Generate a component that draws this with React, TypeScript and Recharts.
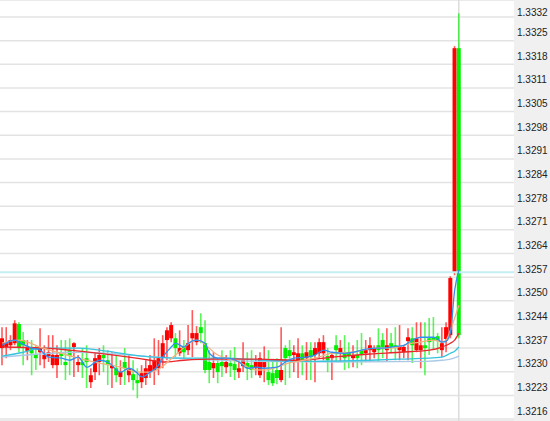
import React from 'react';
import { ComposedChart, Bar, Line, XAxis, YAxis, CartesianGrid, ReferenceLine } from 'recharts';

// candle prices, one entry per bar
const opens = [
  1.32368, 1.32371, 1.32376, 1.32382, 1.32437, 1.32391, 1.32359, 1.32368, 1.32351, 1.32356,
  1.32336, 1.32345, 1.32319, 1.32319, 1.32356, 1.32328, 1.32362, 1.32371, 1.32319, 1.32328,
  1.32339, 1.3227, 1.32299, 1.32328, 1.32348, 1.32333, 1.3231, 1.3231, 1.32285, 1.32328,
  1.3229, 1.32293, 1.32276, 1.3227, 1.32282, 1.32299, 1.32305, 1.3231, 1.32342, 1.32391,
  1.32396, 1.32396, 1.32353, 1.32371, 1.32362, 1.32396, 1.32385, 1.32428, 1.32382, 1.32328,
  1.3231, 1.32325, 1.32328, 1.32313, 1.32325, 1.32322, 1.32299, 1.32316, 1.32325, 1.32319,
  1.3231, 1.3229, 1.32313, 1.32299, 1.32296, 1.32305, 1.32276, 1.32368, 1.32362, 1.32348,
  1.32328, 1.32353, 1.32339, 1.32362, 1.32348, 1.32353, 1.32353, 1.32345, 1.32339, 1.32376,
  1.32356, 1.32353, 1.32356, 1.32339, 1.32348, 1.32362, 1.32353, 1.32362, 1.32356, 1.32376,
  1.32391, 1.32362, 1.32382, 1.32376, 1.32362, 1.32356, 1.32388, 1.32396, 1.32362, 1.32362,
  1.32376, 1.32396, 1.32399, 1.32402, 1.32362, 1.32394, 1.32405, 1.32586, 1.33229,
];
const highs = [
  1.32428, 1.32428, 1.32405, 1.32448, 1.32442, 1.32414, 1.32391, 1.32391, 1.32376, 1.32425,
  1.32376, 1.32405, 1.32405, 1.32376, 1.32391, 1.32391, 1.32396, 1.32385, 1.32348, 1.32368,
  1.32376, 1.3231, 1.32356, 1.32368, 1.32376, 1.32362, 1.32356, 1.32345, 1.32333, 1.32368,
  1.32348, 1.32333, 1.3231, 1.32319, 1.32333, 1.32348, 1.32396, 1.32391, 1.32405, 1.32428,
  1.32442, 1.32411, 1.32419, 1.32391, 1.32434, 1.32477, 1.32431, 1.32468, 1.32448, 1.32362,
  1.32356, 1.32339, 1.32362, 1.32348, 1.32362, 1.32371, 1.32333, 1.32385, 1.32356, 1.32362,
  1.32348, 1.32356, 1.32373, 1.32362, 1.32333, 1.32339, 1.32428, 1.32376, 1.32391, 1.32376,
  1.32396, 1.32376, 1.32385, 1.32385, 1.32385, 1.32396, 1.32405, 1.32368, 1.32356, 1.32405,
  1.32391, 1.32405, 1.32385, 1.32376, 1.32391, 1.32411, 1.32391, 1.32399, 1.32376, 1.32425,
  1.32411, 1.32425, 1.32411, 1.32428, 1.32434, 1.32376, 1.32425, 1.32428, 1.32442, 1.32442,
  1.32442, 1.32454, 1.32457, 1.32411, 1.32428, 1.32442, 1.32574, 1.33235, 1.33329,
];
const lows = [
  1.32319, 1.32339, 1.32362, 1.32376, 1.32356, 1.32319, 1.32333, 1.3229, 1.32305, 1.32319,
  1.3231, 1.32328, 1.3231, 1.32282, 1.32319, 1.32276, 1.3229, 1.32285, 1.32299, 1.32282,
  1.32253, 1.32253, 1.32276, 1.3229, 1.32299, 1.32262, 1.32253, 1.3227, 1.32262, 1.32262,
  1.3227, 1.32247, 1.32224, 1.32253, 1.32262, 1.32282, 1.32262, 1.3229, 1.3231, 1.32333,
  1.32385, 1.32342, 1.32345, 1.32339, 1.32348, 1.32342, 1.32376, 1.32382, 1.32296, 1.32267,
  1.32282, 1.32267, 1.32285, 1.32296, 1.32285, 1.32276, 1.32282, 1.32299, 1.32276, 1.32282,
  1.3229, 1.32282, 1.3227, 1.32262, 1.32259, 1.32264, 1.3227, 1.32262, 1.32282, 1.32299,
  1.32282, 1.3229, 1.32276, 1.32276, 1.3227, 1.32339, 1.32333, 1.32299, 1.32276, 1.32328,
  1.32328, 1.32305, 1.3231, 1.32313, 1.3231, 1.32319, 1.32328, 1.32328, 1.32339, 1.32328,
  1.32339, 1.32328, 1.32353, 1.32333, 1.32333, 1.32339, 1.32333, 1.32325, 1.32356, 1.3231,
  1.3229, 1.32348, 1.32362, 1.32353, 1.32342, 1.32356, 1.32396, 1.32577, 1.32396,
];
const closes = [
  1.32396, 1.32382, 1.32391, 1.32439, 1.32368, 1.32376, 1.32371, 1.32353, 1.32339, 1.32368,
  1.32348, 1.32356, 1.32348, 1.32348, 1.32345, 1.32319, 1.32345, 1.32382, 1.32328, 1.32319,
  1.32328, 1.3229, 1.32339, 1.32348, 1.32339, 1.32319, 1.32319, 1.3229, 1.32299, 1.3231,
  1.3231, 1.32276, 1.32267, 1.32296, 1.3231, 1.32319, 1.32333, 1.32339, 1.32382, 1.32419,
  1.32434, 1.32368, 1.32368, 1.32356, 1.32382, 1.32411, 1.32411, 1.32411, 1.32305, 1.32305,
  1.32325, 1.32299, 1.32316, 1.32328, 1.32316, 1.32305, 1.3231, 1.32333, 1.3231, 1.32305,
  1.32328, 1.32339, 1.32333, 1.32276, 1.32267, 1.32282, 1.32305, 1.32339, 1.32345, 1.32356,
  1.32353, 1.32333, 1.32356, 1.32342, 1.32368, 1.32385, 1.32385, 1.32333, 1.32348, 1.32362,
  1.32368, 1.32339, 1.32345, 1.32348, 1.32339, 1.32351, 1.32362, 1.32376, 1.32368, 1.32362,
  1.32371, 1.32376, 1.32371, 1.32368, 1.32373, 1.32371, 1.32399, 1.32376, 1.32396, 1.32376,
  1.32368, 1.32385, 1.32391, 1.32391, 1.32382, 1.32428, 1.32569, 1.33229, 1.32405,
];

// moving average readings: [bar index, price]
const maBlue: [number, number][] = [
  [0, 1.32376], [3, 1.32391], [4, 1.32385], [7, 1.32368], [9, 1.32362], [11, 1.32342],
  [14, 1.32339], [16, 1.32333], [18, 1.32342], [20, 1.32313], [23, 1.32333], [25, 1.32328],
  [28, 1.32299], [30, 1.3231], [32, 1.32296], [33, 1.32285], [35, 1.32299], [37, 1.32319],
  [38, 1.32342], [40, 1.32371], [41, 1.32382], [43, 1.32371], [44, 1.32382], [46, 1.32391],
  [48, 1.32382], [49, 1.32353], [51, 1.32339], [53, 1.32339], [56, 1.32328], [58, 1.3231],
  [60, 1.32313], [62, 1.3231], [65, 1.32313], [67, 1.32328], [69, 1.32339], [72, 1.32342],
  [74, 1.32348], [76, 1.32362], [78, 1.32356], [81, 1.32353], [83, 1.32356], [85, 1.32362],
  [88, 1.32368], [90, 1.32368], [93, 1.32373], [95, 1.32376], [97, 1.32391], [99, 1.32399],
  [102, 1.32399], [103, 1.32394], [104, 1.32385], [105, 1.32388], [106, 1.32414],
  [107, 1.32534], [108, 1.32592],
];
const maTan: [number, number][] = [
  [0, 1.32382], [4, 1.32391], [9, 1.32371], [14, 1.32353], [18, 1.32339], [23, 1.32325],
  [28, 1.32313], [32, 1.32299], [35, 1.32299], [37, 1.32308], [41, 1.32348], [46, 1.32391],
  [51, 1.32348], [56, 1.32328], [60, 1.32305], [62, 1.32305], [65, 1.32313], [67, 1.32322],
  [70, 1.3233], [74, 1.32339], [78, 1.32353], [83, 1.32356], [88, 1.32368], [92, 1.32368],
  [97, 1.32382], [99, 1.32385], [102, 1.32391], [104, 1.32385], [105, 1.32391],
  [106, 1.32419], [107, 1.32454], [108, 1.32491],
];
const maRed: [number, number][] = [
  [0, 1.32371], [10, 1.32368], [16, 1.32362], [23, 1.32353], [30, 1.32342], [35, 1.32333],
  [38, 1.32328], [43, 1.32333], [50, 1.32336], [60, 1.32336], [71, 1.32333], [78, 1.32342],
  [87, 1.32351], [94, 1.32356], [101, 1.32362], [104, 1.32371], [106, 1.32382],
  [107, 1.32391], [108, 1.32411],
];
const maCyan: [number, number][] = [
  [0, 1.32345], [5, 1.32356], [9, 1.32368], [18, 1.32368], [23, 1.32362], [31, 1.32348],
  [36, 1.32342], [43, 1.32339], [53, 1.32339], [62, 1.32333], [73, 1.3233], [87, 1.32333],
  [94, 1.32336], [104, 1.32342], [106, 1.32353], [107, 1.32359], [108, 1.32371],
];
const maLight: [number, number][] = [
  [0, 1.32342], [18, 1.32356], [40, 1.32339], [60, 1.3233], [80, 1.32328], [100, 1.3233],
  [104, 1.32333], [106, 1.32336], [108, 1.32345],
];

const yTicks = [
  1.333185, 1.332506, 1.331827, 1.331148, 1.330469, 1.32979, 1.329111, 1.328432, 1.327753,
  1.327074, 1.326395, 1.325716, 1.325037, 1.324358, 1.323679, 1.323, 1.322321, 1.321642,
];
const yDomain: [number, number] = [1.321586, 1.333673];
const refLevel = 1.32586;
const lastBar = 108;

const UP = '#ff0000';
const DOWN = '#00f000';

const maKeys = ['maBlue', 'maTan', 'maRed', 'maCyan', 'maLight'];
const rows: any[] = opens.map((open, i) => {
  const row: any = { i, open, high: highs[i], low: lows[i], close: closes[i] };
  maKeys.forEach((k) => (row[k] = null));
  return row;
});
const addSeries = (key: string, points: [number, number][]) => {
  points.forEach(([idx, v]) => {
    rows[idx][key] = v;
  });
};
addSeries('maBlue', maBlue);
addSeries('maTan', maTan);
addSeries('maRed', maRed);
addSeries('maCyan', maCyan);
addSeries('maLight', maLight);

const Candle = (props: any) => {
  const { x, y, width, height, payload, background } = props;
  if (!payload || height == null || isNaN(y)) return null;
  const { open, close, high, low } = payload;
  const color = close >= open ? UP : DOWN;
  const span = high - low;
  const k = span > 0 ? height / span : 0;
  const top = y + (high - Math.max(open, close)) * k;
  const bottom = y + (high - Math.min(open, close)) * k;
  const cx = x + width / 2;
  // the last bar carries a full-height marker line behind it
  const marker =
    payload.i === lastBar && background ? (
      <line x1={cx} x2={cx} y1={background.y} y2={background.y + background.height} stroke="#dcdcdc" strokeWidth={1.5} />
    ) : null;
  return (
    <g>
      {marker}
      <line x1={cx} x2={cx} y1={y} y2={y + height} stroke={color} strokeOpacity={0.65} strokeWidth={1.6} />
      <rect x={x} y={top} width={width} height={Math.max(1, bottom - top)} fill={color} />
    </g>
  );
};

const PriceTick = (props: any) => {
  const { x, y, payload } = props;
  return (
    <text
      x={x + 1}
      y={Math.max(y - 4.5, 16)}
      fill="#222"
      fontSize={10}
      fontFamily="'Liberation Sans', Arial, sans-serif"
      textAnchor="start"
    >
      {Number(payload.value).toFixed(4)}
    </text>
  );
};

export default function App() {
  return (
    <div style={{ position: 'relative', width: 550, height: 421, background: '#fff' }}>
      <style>{'body{margin:0}'}</style>
      {/* price axis panel */}
      <div style={{ position: 'absolute', left: 514, top: 0, width: 36, height: 421, background: '#f0f0f0' }} />
      <div style={{ position: 'absolute', left: 0, top: 0 }}>
        <ComposedChart width={550} height={421} data={rows} margin={{ top: 0, right: 0, left: 0, bottom: 0 }}>
          <CartesianGrid vertical={false} stroke="#e3e3e3" strokeWidth={1.5} />
          <XAxis dataKey="i" hide padding={{ left: 0, right: 53 }} />
          <YAxis
            orientation="right"
            width={36}
            domain={yDomain}
            allowDataOverflow
            ticks={yTicks}
            interval={0}
            axisLine={false}
            tickLine={false}
            tickSize={0}
            tickMargin={2}
            tick={<PriceTick />}
          />
          <ReferenceLine y={refLevel} stroke="#c3eef3" strokeWidth={2} />
          <Bar
            dataKey={(d: any) => [d.low, d.high]}
            barSize={4}
            shape={<Candle />}
            isAnimationActive={false}
          />
          <Line dataKey="maLight" type="monotone" stroke="#a9c9e6" strokeWidth={1.3} dot={false} activeDot={false} connectNulls isAnimationActive={false} />
          <Line dataKey="maCyan" type="monotone" stroke="#35c3de" strokeWidth={1.3} dot={false} activeDot={false} connectNulls isAnimationActive={false} />
          <Line dataKey="maRed" type="monotone" stroke="#e8282c" strokeWidth={1.3} dot={false} activeDot={false} connectNulls isAnimationActive={false} />
          <Line dataKey="maTan" type="monotone" stroke="#f2b07e" strokeWidth={1.3} dot={false} activeDot={false} connectNulls isAnimationActive={false} />
          <Line dataKey="maBlue" type="monotone" stroke="#2e8ff0" strokeWidth={1.3} dot={false} activeDot={false} connectNulls isAnimationActive={false} />
        </ComposedChart>
      </div>
    </div>
  );
}
